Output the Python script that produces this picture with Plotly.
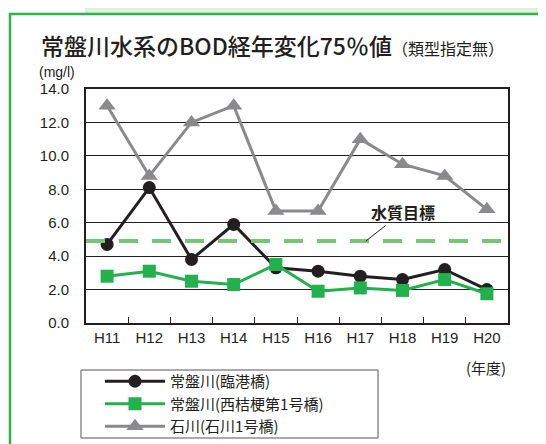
import plotly.graph_objects as go

# data
years = ["H11", "H12", "H13", "H14", "H15", "H16", "H17", "H18", "H19", "H20"]
rinko = [4.7, 8.1, 3.8, 5.9, 3.3, 3.1, 2.8, 2.6, 3.2, 2.0]
nishikikyo = [2.8, 3.1, 2.5, 2.3, 3.5, 1.9, 2.1, 1.95, 2.6, 1.75]
ishikawa = [13.0, 8.8, 12.0, 13.0, 6.7, 6.7, 11.0, 9.5, 8.8, 6.8]
target = 4.9
y_ticks = [0, 2, 4, 6, 8, 10, 12, 14]

JP = "Noto Sans CJK JP"
NUM = "Liberation Sans Narrow, Liberation Sans, Arial"

# the page body has an 8px margin, so the figure is 8px smaller than the window
OFF = 8
W, H = 546 - OFF, 444 - OFF
# plot area in window pixels: x 86..508, y 89..323
X0, X1, Y0, Y1 = 86, 508, 89, 323
pw, ph = X1 - X0, Y1 - Y0


def px(x):
    return (x - X0) / pw


def py(y):
    return (Y1 - y) / ph


fig = go.Figure()

fig.add_trace(go.Scatter(
    x=years, y=rinko, mode="lines+markers", name="常盤川(臨港橋)",
    line=dict(color="#231f20", width=3),
    marker=dict(symbol="circle", size=13, color="#231f20"),
))
fig.add_trace(go.Scatter(
    x=years, y=nishikikyo, mode="lines+markers", name="常盤川(西桔梗第1号橋)",
    line=dict(color="#22b14c", width=3),
    marker=dict(symbol="square", size=13, color="#22b14c"),
))
fig.add_trace(go.Scatter(
    x=years, y=ishikawa, mode="lines+markers", name="石川(石川1号橋)",
    line=dict(color="#8a8a8c", width=3),
    marker=dict(symbol="triangle-up", size=15, color="#8a8a8c"),
))

shapes = [
    # light green page background strips
    dict(type="rect", xref="paper", yref="paper", x0=px(85), x1=px(560),
         y0=py(13), y1=py(-10), fillcolor="#ddeedb", line_width=0, layer="below"),
    dict(type="rect", xref="paper", yref="paper", x0=px(541), x1=px(560),
         y0=py(460), y1=py(-10), fillcolor="#ddeedb", line_width=0, layer="below"),
    # green frame
    dict(type="rect", xref="paper", yref="paper", x0=px(10), x1=px(540),
         y0=py(470), y1=py(14), fillcolor="white",
         line=dict(color="#2db34a", width=2.5), layer="below"),
    # legend box
    dict(type="rect", xref="paper", yref="paper", x0=px(81), x1=px(378),
         y0=py(438), y1=py(370), fillcolor="rgba(0,0,0,0)",
         line=dict(color="#555555", width=1)),
    # target line
    dict(type="line", xref="paper", yref="y", x0=0, x1=1, y0=target, y1=target,
         line=dict(color="#78c47a", width=4, dash="19px,14px"), layer="above"),
]

annotations = [
    dict(xref="paper", yref="paper", x=px(39), y=py(45), xanchor="left", yanchor="middle",
         text="常盤川水系のBOD経年変化75％値"
              "<span style='font-size:16px;font-weight:400'>（類型指定無）</span>",
         showarrow=False, font=dict(family=JP, size=23, color="#231f20", weight=500)),
    dict(xref="paper", yref="paper", x=px(37), y=py(72), xanchor="left", yanchor="middle",
         text="(mg/l)", showarrow=False, font=dict(family=NUM, size=14, color="#231f20")),
    dict(xref="paper", yref="paper", x=px(486), y=py(367), xanchor="center", yanchor="middle",
         text="(年度)", showarrow=False, font=dict(family=JP, size=15, color="#231f20")),
    dict(x=6.13, y=target, xref="x", yref="y", text="<b>水質目標</b>",
         showarrow=True, arrowhead=0, arrowwidth=1, arrowcolor="#231f20",
         ax=37, ay=-29, font=dict(family=JP, size=16, color="#231f20")),
]

fig.update_layout(
    width=W, height=H,
    margin=dict(l=X0 - OFF, r=546 - X1, t=Y0 - OFF, b=444 - Y1, autoexpand=False),
    paper_bgcolor="white", plot_bgcolor="white",
    shapes=shapes, annotations=annotations,
    showlegend=True,
    legend=dict(
        x=px(100), y=py(365), xanchor="left", yanchor="top",
        borderwidth=0, bgcolor="rgba(0,0,0,0)",
        font=dict(family=JP, size=15, color="#231f20"),
        itemwidth=60, tracegroupgap=0,
    ),
)

fig.update_xaxes(
    type="category", range=[-0.5, 9.5],
    showline=True, linecolor="#231f20", linewidth=2, mirror=True,
    showgrid=False, ticks="inside", ticklen=6, tickcolor="#231f20",
    tickson="boundaries",
    tickfont=dict(family=NUM, size=15, color="#231f20"),
)
fig.update_yaxes(
    range=[0, 14], tickvals=y_ticks, tickformat=".1f",
    showline=True, linecolor="#231f20", linewidth=2, mirror=True,
    showgrid=True, gridcolor="#231f20", gridwidth=1, zeroline=False,
    ticks="", ticklabelstandoff=12,
    tickfont=dict(family=NUM, size=15, color="#231f20"),
)

fig.write_html("out.html")
